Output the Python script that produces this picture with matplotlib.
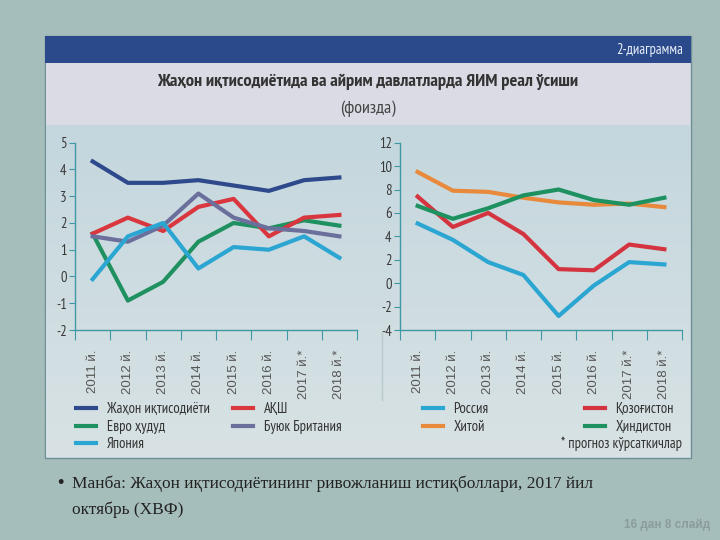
import numpy as np
import matplotlib.pyplot as plt
from matplotlib.colors import LinearSegmentedColormap
from matplotlib.patches import Rectangle

plt.rcParams['font.family'] = ['Liberation Sans', 'DejaVu Sans']
plt.rcParams['axes.unicode_minus'] = False
NARROW = ['PT Sans Narrow', 'DejaVu Sans']

years = ['2011 й.', '2012 й.', '2013 й.', '2014 й.', '2015 й.', '2016 й.', '2017 й.*', '2018 й.*']

# left panel, %
world = [4.3, 3.5, 3.5, 3.6, 3.4, 3.2, 3.6, 3.7]
usa = [1.6, 2.2, 1.7, 2.6, 2.9, 1.5, 2.2, 2.3]
euro = [1.6, -0.9, -0.2, 1.3, 2.0, 1.8, 2.1, 1.9]
uk = [1.5, 1.3, 1.9, 3.1, 2.2, 1.8, 1.7, 1.5]
japan = [-0.1, 1.5, 2.0, 0.3, 1.1, 1.0, 1.5, 0.7]

# right panel, %
russia = [5.1, 3.7, 1.8, 0.7, -2.8, -0.2, 1.8, 1.6]
china = [9.5, 7.9, 7.8, 7.3, 6.9, 6.7, 6.8, 6.5]
kazakh = [7.4, 4.8, 6.0, 4.2, 1.2, 1.1, 3.3, 2.9]
india = [6.6, 5.5, 6.4, 7.5, 8.0, 7.1, 6.7, 7.3]

W, H = 720, 540
fig = plt.figure(figsize=(7.2, 5.4), dpi=100)
fig.patch.set_facecolor('#a6bebb')

# background: card, header, title band, plot area
bg = fig.add_axes([0, 0, 1, 1], zorder=-10)
bg.set_xlim(0, W)
bg.set_ylim(H, 0)
bg.axis('off')
bg.add_patch(Rectangle((45, 36), 646, 422, facecolor='#d3dfe2', edgecolor='#6f8f96', lw=1))
bg.add_patch(Rectangle((45, 36), 646, 27, facecolor='#2b4a8c', edgecolor='none'))
bg.add_patch(Rectangle((46, 63), 644, 62, facecolor='#dadbe4', edgecolor='none'))
grad = np.linspace(0, 1, 100).reshape(-1, 1)
bg.imshow(grad, extent=(46, 690, 457, 125),
          cmap=LinearSegmentedColormap.from_list('g', ['#c4d7de', '#d8e2e4']),
          aspect='auto', zorder=1)
bg.plot([382, 382], [333, 400], color='#b9c9cc', lw=1, zorder=2)

fig.text(683 / W, 1 - 50 / H, '2-диаграмма', color='#e8eef8', fontsize=10.5,
         style='italic', ha='right', va='center', family=NARROW)
fig.text(368 / W, 1 - 82 / H, 'Жаҳон иқтисодиётида ва айрим давлатларда ЯИМ реал ўсиши',
         color='#333333', fontsize=13.2, weight='bold', ha='center', va='center',
         family=NARROW)
fig.text(368 / W, 1 - 109 / H, '(фоизда)', color='#444444', fontsize=13,
         ha='center', va='center', family=NARROW)

axis_col = '#3f98a3'
x = np.arange(len(years)) + 0.5


def style(ax, lo, hi, step):
    ax.set_facecolor('none')
    ax.set_xlim(0, len(years))
    ax.set_ylim(lo, hi)
    ax.set_yticks(np.arange(lo, hi + 0.1, step))
    ax.set_xticks(np.arange(0, len(years) + 1))
    ax.set_xticklabels([])
    ax.set_xticks(x, minor=True)
    ax.set_xticklabels(years, minor=True, rotation=90, fontsize=9.5, color='#555555')
    ax.tick_params(axis='x', which='minor', length=0, pad=14)
    ax.tick_params(axis='x', which='major', length=7, color=axis_col, direction='out')
    ax.tick_params(axis='y', length=4, color=axis_col, labelsize=10.5,
                   labelcolor='#3a3a3a', pad=2)
    for s in ['top', 'right']:
        ax.spines[s].set_visible(False)
    for s in ['left', 'bottom']:
        ax.spines[s].set_color(axis_col)
        ax.spines[s].set_linewidth(1)
    for lab in ax.get_yticklabels():
        lab.set_family(NARROW)


y0, y1 = 330, 142.7
axL = fig.add_axes([75 / W, 1 - y0 / H, 282 / W, (y0 - y1) / H])
axR = fig.add_axes([400 / W, 1 - y0 / H, 282 / W, (y0 - y1) / H])
style(axL, -2, 5, 1)
style(axR, -4, 12, 2)

lw = 3
lWorld, = axL.plot(x, world, color='#2e4a8c', lw=lw, label='Жаҳон иқтисодиёти')
lEuro, = axL.plot(x, euro, color='#1f9160', lw=lw, label='Евро ҳудуд')
lUsa, = axL.plot(x, usa, color='#d9363e', lw=lw, label='АҚШ')
lUk, = axL.plot(x, uk, color='#6b6f9c', lw=lw, label='Буюк Британия')
lJap, = axL.plot(x, japan, color='#2ba6d2', lw=lw, label='Япония')

lChina, = axR.plot(x, china, color='#e8893b', lw=lw, label='Хитой')
lKaz, = axR.plot(x, kazakh, color='#d4343f', lw=lw, label='Қозоғистон')
lRus, = axR.plot(x, russia, color='#2ba6d2', lw=lw, label='Россия')
lInd, = axR.plot(x, india, color='#1e9160', lw=lw, label='Ҳиндистон')

leg_font = {'family': NARROW, 'size': 10.5}


def add_legend(handles, xpix, ypix):
    leg = fig.legend(handles=handles, loc='upper left',
                     bbox_to_anchor=(xpix / W, 1 - ypix / H), frameon=False,
                     prop=leg_font, handlelength=1.4, handletextpad=0.7,
                     labelspacing=0.25, borderpad=0, borderaxespad=0)
    for t in leg.get_texts():
        t.set_color('#333333')


add_legend([lWorld, lEuro, lJap], 76, 402)
add_legend([lUsa, lUk], 233, 402)
add_legend([lRus, lChina], 423, 402)
add_legend([lKaz, lInd], 585, 402)

fig.text(682 / W, 1 - 444 / H, '* прогноз кўрсаткичлар', color='#333333', fontsize=10.5,
         ha='right', va='center', family=NARROW)

fig.text(60 / W, 1 - 484 / H, '•', color='#222222', fontsize=13, ha='center', va='center')
fig.text(72 / W, 1 - 484 / H, 'Манба: Жаҳон иқтисодиётининг ривожланиш истиқболлари, 2017 йил',
         color='#222222', fontsize=12.5, ha='left', va='center', family='Liberation Serif')
fig.text(72 / W, 1 - 510 / H, 'октябрь (ХВФ)',
         color='#222222', fontsize=12.5, ha='left', va='center', family='Liberation Serif')
fig.text(710 / W, 1 - 525 / H, '16 дан 8 слайд', color='#8a9c9c', fontsize=8.5,
         weight='bold', ha='right', va='center')

plt.savefig('out.png', dpi=100)
